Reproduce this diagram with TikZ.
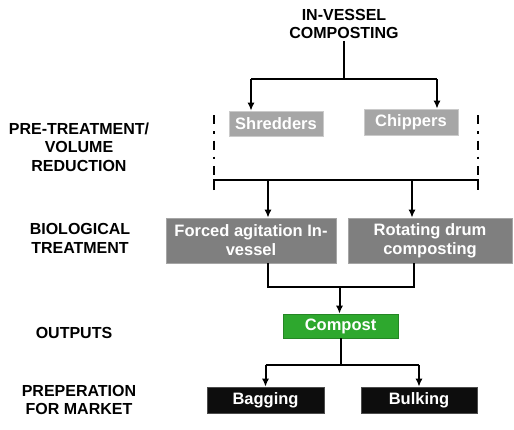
\documentclass[tikz,border=0pt]{standalone}
\usepackage{fontspec}
\setmainfont{Liberation Sans}
\usepackage{xcolor}
\usepackage{tikz}
\usetikzlibrary{arrows.meta}

\definecolor{lightgrey}{HTML}{A6A6A6}
\definecolor{midgrey}{HTML}{7F7F7F}
\definecolor{compostgreen}{HTML}{2EA82E}
\definecolor{nearblack}{HTML}{0D0D0D}

\begin{document}
\begin{tikzpicture}[
    x=1pt, y=-1pt,
    box/.style={rectangle, inner sep=0pt, align=center, text=white,
        font=\fontsize{16.5}{19}\selectfont\bfseries},
    greybox/.style={box, fill=lightgrey, draw=lightgrey!60, line width=0.6pt},
    darkbox/.style={box, fill=midgrey, draw=midgrey!70, line width=0.6pt},
    greenbox/.style={box, fill=compostgreen, draw=compostgreen!80!black, line width=0.6pt},
    blackbox/.style={box, fill=nearblack, draw=black!70, line width=0.6pt},
    arrow/.style={-{Latex[length=8pt, width=7pt]}, line width=2pt},
    line/.style={line width=2pt},
    sidelabel/.style={align=center, font=\fontsize{16}{18.5}\selectfont\bfseries}
]

\useasboundingbox (0,0) rectangle (514,429);

% Title
\node[sidelabel, font=\fontsize{16}{18}\selectfont\bfseries, inner sep=2pt] (title) at (344,24) {IN-VESSEL\\COMPOSTING};

%==============================================================================
% Row labels
%==============================================================================
\node[sidelabel] (prelab) at (79,147) {PRE-TREATMENT/\\VOLUME\\REDUCTION};
\node[sidelabel] (biolab) at (80,238.5) {BIOLOGICAL\\TREATMENT};
\node[sidelabel] (outlab) at (74,333) {OUTPUTS};
\node[sidelabel] (preplab) at (79,400) {PREPERATION\\FOR MARKET};

%==============================================================================
% Pre-treatment
%==============================================================================
\node[greybox, minimum width=94pt, minimum height=25pt] (shred) at (276,123.5) {Shredders};
\node[greybox, minimum width=94pt, minimum height=26pt] (chip) at (411,122) {Chippers};

\coordinate (sL) at (251,79);
\coordinate (sR) at (437,79);
\draw[line] (title.south) -- (title.south |- sL);
\draw[line] (sL) -- (sR);
\draw[arrow] (sL) -- (sL |- shred.north);
\draw[arrow] (sR) -- (sR |- chip.north);

% Bracket round both
\coordinate (bTL) at (214,115);
\coordinate (bTR) at (478,115);
\coordinate (bBL) at (214,180);
\coordinate (bBR) at (478,180);
\draw[line width=2pt, dash pattern=on 9pt off 7pt on 2.5pt off 7pt] (bTL) -- ([yshift=-10pt]bBL);
\draw[line width=2pt, dash pattern=on 9pt off 7pt on 2.5pt off 7pt] (bTR) -- ([yshift=-10pt]bBR);
\draw[line] ([yshift=-10pt]bBL) -- (bBL) -- (bBR) -- ([yshift=-10pt]bBR);

%==============================================================================
% Biological treatment
%==============================================================================
\node[darkbox, minimum width=170pt, minimum height=45pt] (forced) at (251,240.5) {Forced agitation In-\\vessel};
\node[darkbox, minimum width=164pt, minimum height=45pt] (rotating) at (430,240.5) {Rotating drum\\composting};

\coordinate (dL) at (268,180);
\coordinate (dR) at (412,180);
\draw[arrow] (dL) -- (dL |- forced.north);
\draw[arrow] (dR) -- (dR |- rotating.north);

%==============================================================================
% Outputs
%==============================================================================
\node[greenbox, minimum width=115pt, minimum height=24pt] (compost) at (340.5,326) {Compost};

\coordinate (mL) at (268,287);
\coordinate (mR) at (414,287);
\coordinate (mC) at (339.5,287);
\draw[line] (mL |- forced.south) -- (mL) -- (mR) -- (mR |- rotating.south);
\draw[arrow] (mC) -- (mC |- compost.north);

%==============================================================================
% Preparation for market
%==============================================================================
\node[blackbox, minimum width=117pt, minimum height=26pt] (bagging) at (265.5,400) {Bagging};
\node[blackbox, minimum width=116pt, minimum height=26pt] (bulking) at (419,400) {Bulking};

\coordinate (pC) at (341,365);
\draw[line] (compost.south -| pC) -- (pC);
\draw[line] (bagging.north |- pC) -- (bulking.north |- pC);
\draw[arrow] (bagging.north |- pC) -- (bagging.north);
\draw[arrow] (bulking.north |- pC) -- (bulking.north);

\end{tikzpicture}
\end{document}
